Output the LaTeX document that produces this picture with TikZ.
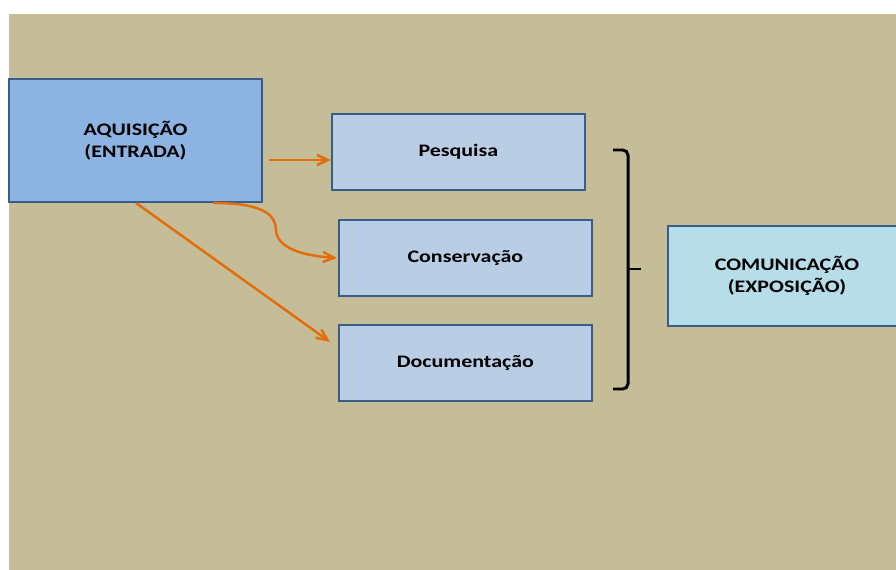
\documentclass[tikz,border=0pt]{standalone}
\usepackage{fontspec}
\setmainfont{Carlito}[FakeStretch=1.25]
\usetikzlibrary{shapes,arrows.meta,positioning,calc}
\definecolor{fundo}{HTML}{C4BD97}
\definecolor{borda}{HTML}{385D8A}
\definecolor{azulforte}{HTML}{8DB3E2}
\definecolor{azulclaro}{HTML}{B9CDE5}
\definecolor{turquesa}{HTML}{B7DEE8}
\definecolor{laranja}{HTML}{E46C0A}

\tikzset{
  caixa/.style={rectangle, draw=borda, line width=1.1pt, align=center,
    font=\bfseries\fontsize{10}{12.5}\selectfont, inner sep=0pt},
  etapa/.style={caixa, fill=azulclaro, minimum width=5.06cm, minimum height=1.52cm},
  seta/.style={draw=laranja, line width=1.4pt, -{Straight Barb[length=2.2mm,width=2mm]}}
}

\begin{document}
\begin{tikzpicture}[x=0.02cm, y=-0.02cm]
				% fundo
				\fill[white] (0,0) rectangle (896,570);
				\fill[fundo] (9,14) rectangle (896,570);
				\useasboundingbox (0,0) rectangle (896,570);
				
				% Entrada
				\node[caixa, fill=azulforte, minimum width=5.06cm, minimum height=2.46cm] (aquis) at (135.5,140.5) {AQUISIÇÃO\\(ENTRADA)};
				
				% Etapas
				\node[etapa, right=1.36cm of aquis, yshift=-0.23cm] (pesq) {\raisebox{-1pt}{Pesquisa}};
				\node[etapa, below=0.56cm of pesq, xshift=0.14cm] (cons) {\raisebox{-1pt}{Conservação}};
				\node[etapa, below=0.54cm of cons] (docu) {\raisebox{-1pt}{Documentação}};
				
				% Saida
				\node[caixa, fill=turquesa, minimum width=4.76cm, minimum height=2cm] (comun) at (787,276) {COMUNICAÇÃO\\(EXPOSIÇÃO)};
				
				\coordinate (a1) at (269,160);
				\coordinate (a2) at (276,231);
				\draw[seta] (a1) -- (a1 -| pesq.west);
				\draw[seta] ($(aquis.south)+(77.5,0)$) .. controls (262,203) and (276,214) .. (a2) .. controls (278,249) and (305,256) .. ($(cons.west)+(-1,0)$);
				\draw[seta] ($(aquis.south)+(0.5,0)$) -- ($(docu.west)+(-8,-21)$);
				
				% chave
				\draw[line width=1.7pt, rounded corners=3pt] (613,150) -- (628,150) -- (628,389) -- (613,389);
				\draw[line width=1.7pt] (628,269) -- (641,269);
			\end{tikzpicture}
\end{document}
